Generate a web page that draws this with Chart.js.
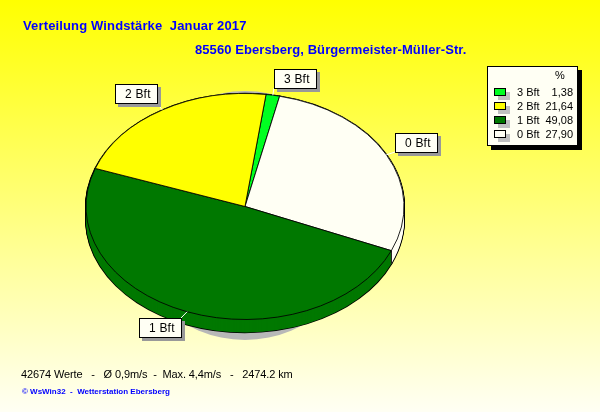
<!DOCTYPE html>
<html>
<head>
<meta charset="utf-8">
<style>html,body{margin:0;padding:0;background:#fff}canvas{display:block}</style>
<script src="https://cdn.jsdelivr.net/npm/chart.js@4"></script>
</head>
<body>
<canvas id="c" width="600" height="412"></canvas>
<script>
const categories = ['3 Bft', '0 Bft', '1 Bft', '2 Bft'];
const percentValues = [1.38, 27.90, 49.08, 21.64];
const sliceColors = ['#00ff21', '#fffff4', '#007800', '#ffff00'];
const legendOrder = ['3 Bft', '2 Bft', '1 Bft', '0 Bft'];
const titleLine1 = 'Verteilung Windstärke  Januar 2017';
const titleLine2 = '85560 Ebersberg, Bürgermeister-Müller-Str.';
const footerLine = '42674 Werte   -   Ø 0,9m/s  -  Max. 4,4m/s   -   2474.2 km';
const creditLine = '© WsWin32  -  Wetterstation Ebersberg';

const FONT = '"Liberation Sans", Arial, sans-serif';
const SQUASH = 113 / 159;
const DEPTH = 13;
const labelBoxes = {
  '3 Bft': [274, 69],
  '0 Bft': [395, 133],
  '1 Bft': [139, 318],
  '2 Bft': [115, 84]
};

function arcOptions(base, fill, stroke, width) {
  return {
    backgroundColor: fill, borderColor: stroke, borderWidth: width,
    borderAlign: 'center', borderJoinStyle: 'round', borderRadius: 0,
    borderDash: [], borderDashOffset: 0, circular: true, offset: 0,
    spacing: 0, selfJoin: false
  };
}
function drawFlattened(ctx, el, dy, opts) {
  const saved = el.options;
  el.options = opts;
  ctx.save();
  ctx.translate(el.x, el.y + dy);
  ctx.scale(1, SQUASH);
  ctx.translate(-el.x, -el.y);
  el.draw(ctx);
  ctx.restore();
  el.options = saved;
}
function text(ctx, s, x, y, font, color, align, spacing) {
  ctx.font = font;
  ctx.fillStyle = color;
  ctx.textAlign = align || 'left';
  ctx.textBaseline = 'alphabetic';
  ctx.letterSpacing = spacing || '0px';
  ctx.fillText(s, x, y);
  ctx.letterSpacing = '0px';
}

const piePainter = {
  id: 'piePainter',
  beforeDraw(chart) {
    const ctx = chart.ctx;
    const g = ctx.createLinearGradient(0, 0, 0, 412);
    g.addColorStop(0, '#ffff00');
    g.addColorStop(1, '#fffff4');
    ctx.save();
    ctx.fillStyle = g;
    ctx.fillRect(0, 0, 600, 412);
    ctx.restore();
  },
  beforeDatasetDraw(chart) {
    const ctx = chart.ctx;
    const arcs = chart.getDatasetMeta(0).data;
    const cx = arcs[0].x, cy = arcs[0].y, r = arcs[0].outerRadius;

    // grey cast shadow behind the pie
    ctx.save();
    ctx.fillStyle = '#b8b8b8';
    ctx.beginPath();
    ctx.ellipse(cx, cy + 9, 122, 124.5, 0, 0, Math.PI * 2);
    ctx.fill();
    ctx.restore();

    // side wall: black silhouette, then colour fill
    for (let dy = 0; dy <= DEPTH; dy++) {
      arcs.forEach(a => drawFlattened(ctx, a, dy, arcOptions(a, '#000', '#000', 2)));
    }
    for (let dy = DEPTH; dy >= 0; dy--) {
      arcs.forEach((a, i) => drawFlattened(ctx, a, dy, arcOptions(a, sliceColors[i], sliceColors[i], 0)));
    }
    // top face
    arcs.forEach((a, i) => drawFlattened(ctx, a, 0, arcOptions(a, sliceColors[i], '#000', 1)));

    // seam on the wall between the slices facing the viewer
    const seam = arcs[categories.indexOf('1 Bft')].startAngle;
    const sx = cx + r * Math.cos(seam), sy = cy + r * SQUASH * Math.sin(seam);
    ctx.save();
    ctx.strokeStyle = '#000';
    ctx.lineWidth = 1;
    ctx.beginPath();
    ctx.moveTo(sx, sy);
    ctx.lineTo(sx, sy + DEPTH);
    ctx.stroke();
    ctx.restore();
    return false;
  },
  afterDatasetsDraw(chart) {
    const ctx = chart.ctx;
    const arcs = chart.getDatasetMeta(0).data;
    ctx.save();
    // slice labels
    categories.forEach((name, i) => {
      const a = arcs[i];
      const [bx, by] = labelBoxes[name];
      const mid = (a.startAngle + a.endAngle) / 2;
      const px = a.x + a.outerRadius * Math.cos(mid);
      const py = a.y + a.outerRadius * SQUASH * Math.sin(mid);
      const w = 42, h = 19;
      const ax = Math.max(bx, Math.min(bx + w, px));
      const ay = Math.max(by, Math.min(by + h, py));
      ctx.strokeStyle = '#ffffff';
      ctx.lineWidth = 1;
      ctx.beginPath();
      ctx.moveTo(px, py);
      ctx.lineTo(ax, ay);
      ctx.stroke();
      ctx.fillStyle = '#999999';
      ctx.fillRect(bx + 3, by + 3, w + 1, h + 1);
      ctx.fillStyle = '#fffff4';
      ctx.fillRect(bx, by, w, h);
      ctx.strokeStyle = '#000';
      ctx.strokeRect(bx + 0.5, by + 0.5, w, h);
      text(ctx, name, bx + 10, by + 14, '12px ' + FONT, '#000', 'left', '0.2px');
    });

    // legend panel
    ctx.fillStyle = '#000';
    ctx.fillRect(491, 70, 91, 80);
    ctx.fillStyle = '#fffff4';
    ctx.fillRect(487, 66, 91, 80);
    ctx.strokeStyle = '#000';
    ctx.strokeRect(487.5, 66.5, 90, 79);
    text(ctx, '%', 560, 79, '11px ' + FONT, '#000', 'center');
    legendOrder.forEach((name, i) => {
      const idx = categories.indexOf(name);
      const y = 88 + i * 14;
      ctx.fillStyle = '#c0c0c0';
      ctx.fillRect(498, y + 4, 12, 8);
      ctx.fillStyle = sliceColors[idx];
      ctx.fillRect(494, y, 12, 8);
      ctx.strokeStyle = '#000';
      ctx.strokeRect(494.5, y + 0.5, 11, 7);
      text(ctx, name, 517, y + 8, '11px ' + FONT, '#000');
      text(ctx, percentValues[idx].toFixed(2).replace('.', ','), 573, y + 8, '11px ' + FONT, '#000', 'right');
    });

    // headings and footer
    text(ctx, titleLine1, 23, 30, 'bold 13px ' + FONT, '#0000ff', 'left', '0.14px');
    text(ctx, titleLine2, 195, 54, 'bold 13px ' + FONT, '#0000ff', 'left', '0.08px');
    text(ctx, footerLine, 21, 378, '11px ' + FONT, '#000', 'left', '-0.12px');
    text(ctx, creditLine, 22, 394, 'bold 8px ' + FONT, '#0000ff');
    ctx.restore();
  }
};

new Chart(document.getElementById('c'), {
  type: 'pie',
  data: {
    labels: categories,
    datasets: [{
      data: percentValues,
      backgroundColor: sliceColors,
      radius: 159,
      borderWidth: 1,
      borderColor: '#000'
    }]
  },
  options: {
    responsive: false,
    animation: false,
    rotation: 7.6,
    layout: { padding: { right: 110, top: 1 } },
    plugins: { legend: { display: false }, tooltip: { enabled: false }, title: { display: false } }
  },
  plugins: [piePainter]
});
</script>
</body>
</html>
